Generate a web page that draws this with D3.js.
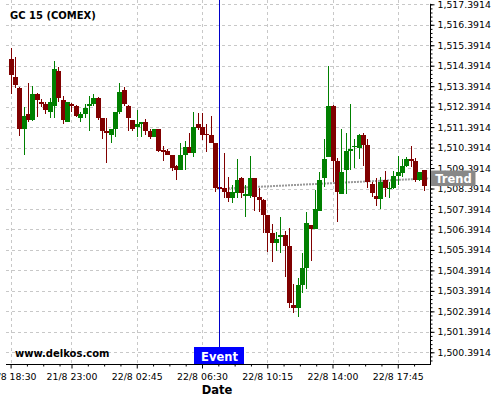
<!DOCTYPE html>
<html><head><meta charset="utf-8">
<script src="https://cdn.jsdelivr.net/npm/d3@7"></script>
<style>
html,body{margin:0;padding:0;background:#fff;}
svg{display:block;font-family:"DejaVu Sans",sans-serif;}
</style></head>
<body>
<svg id="c" width="500" height="400"></svg>
<script>
// ---- DATA (15-minute candles, index 0..95) ----
const title = "GC 15 (COMEX)";
const opens = [1514.72,1513.84,1513.30,1511.31,1512.03,1511.74,1513.01,1512.63,1512.51,1512.14,
1512.44,1514.13,1512.72,1511.66,1512.52,1512.42,1511.84,1512.03,1512.42,1512.52,
1512.81,1511.84,1511.22,1511.02,1511.30,1512.13,1513.20,1512.42,1511.74,1511.41,
1511.54,1511.64,1511.22,1510.92,1511.31,1510.27,1510.21,1510.03,1509.51,1509.31,
1510.03,1510.42,1510.14,1511.53,1511.38,1511.06,1510.99,1510.60,1508.47,1508.40,
1508.21,1507.95,1508.16,1508.91,1508.05,1508.04,1508.91,1507.99,1507.83,1507.10,
1506.23,1505.72,1506.05,1506.11,1505.59,1502.70,1502.54,1503.68,1504.52,1506.61,
1506.41,1507.29,1508.92,1509.95,1512.42,1509.75,1508.12,1509.30,1510.24,1510.41,
1510.36,1511.01,1510.52,1508.61,1508.03,1507.87,1508.81,1508.35,1508.40,1509.00,
1509.14,1509.49,1509.83,1509.74,1508.81,1509.30];
const highs = [1515.24,1514.80,1513.35,1512.39,1513.53,1513.41,1513.06,1512.75,1512.63,1512.80,
1514.62,1514.31,1512.91,1512.62,1512.57,1512.47,1512.14,1512.52,1512.91,1513.01,
1512.86,1511.86,1511.82,1511.30,1512.13,1513.53,1513.37,1512.45,1511.76,1512.23,
1511.64,1511.77,1511.31,1511.31,1511.32,1510.47,1510.31,1510.05,1509.52,1510.60,
1510.71,1511.09,1512.13,1512.07,1512.10,1511.53,1511.93,1510.62,1508.52,1510.11,
1508.97,1508.56,1509.83,1508.97,1508.56,1510.00,1508.93,1508.40,1507.86,1507.12,
1506.66,1506.29,1506.98,1506.33,1506.46,1503.73,1504.01,1505.26,1507.26,1506.63,
1508.32,1509.21,1510.80,1514.39,1512.45,1509.88,1511.28,1511.12,1512.52,1510.81,
1511.06,1511.09,1510.80,1508.73,1508.89,1508.97,1509.26,1508.70,1509.25,1510.00,
1509.82,1509.95,1510.48,1509.90,1509.20,1509.32];
const lows = [1512.99,1513.29,1510.97,1510.01,1511.63,1511.69,1511.90,1512.39,1512.03,1511.82,
1511.82,1512.63,1511.53,1511.63,1512.13,1511.90,1511.63,1511.82,1511.20,1512.42,
1511.74,1510.80,1509.62,1510.60,1510.92,1512.03,1512.44,1511.20,1511.22,1510.91,
1510.89,1511.01,1510.80,1510.91,1510.20,1509.72,1510.03,1509.26,1508.79,1509.30,
1509.31,1510.13,1509.92,1511.25,1510.76,1510.19,1510.62,1508.22,1508.32,1507.91,
1507.73,1507.67,1507.93,1507.91,1507.02,1507.93,1507.29,1507.26,1506.20,1505.29,
1504.80,1505.36,1505.22,1504.09,1502.54,1502.30,1502.10,1503.27,1503.47,1504.85,
1506.39,1507.27,1508.48,1509.93,1508.73,1506.77,1508.10,1508.12,1509.30,1509.38,
1509.83,1509.49,1508.40,1507.98,1507.55,1507.39,1507.99,1507.91,1508.38,1508.56,
1508.97,1509.43,1509.43,1508.70,1508.78,1508.29];
const closes = [1513.95,1513.45,1511.31,1511.93,1511.74,1513.01,1512.72,1512.54,1512.23,1512.62,
1514.23,1512.83,1511.74,1512.62,1512.44,1511.93,1512.03,1512.31,1512.52,1512.81,
1511.84,1511.22,1511.12,1511.30,1512.13,1513.11,1512.52,1511.84,1511.31,1511.54,
1511.64,1511.22,1510.92,1511.31,1510.22,1510.21,1510.03,1509.41,1509.30,1510.03,
1510.42,1510.14,1511.38,1511.33,1511.02,1510.99,1510.63,1508.44,1508.39,1508.24,
1507.95,1508.21,1508.81,1508.16,1508.10,1508.91,1507.98,1507.83,1507.10,1506.23,
1505.72,1505.91,1506.11,1505.59,1502.81,1502.54,1503.68,1504.49,1506.69,1506.41,
1507.38,1508.81,1509.83,1512.42,1509.75,1508.24,1509.20,1510.24,1510.32,1510.47,
1511.01,1510.52,1508.73,1508.16,1507.87,1508.71,1508.43,1508.43,1509.00,1509.18,
1509.49,1509.83,1509.75,1508.81,1509.20,1508.52];

const xTickIdx = [0, 14, 29, 44, 59, 74, 89];
const xTickLabels = ["21/8 18:30","21/8 23:00","22/8 02:45","22/8 06:30","22/8 10:15","22/8 14:00","22/8 17:45"];
const yTickValues = [1500.3914,1501.3914,1502.3914,1503.3914,1504.3914,1505.3914,1506.3914,1507.3914,1508.3914,
1509.3914,1510.3914,1511.3914,1512.3914,1513.3914,1514.3914,1515.3914,1516.3914,1517.3914];
const eventIndex = 48;
const eventLabel = "Event";
const trendIdx = [50, 96.2];
const trendVal = [1508.40, 1508.89];
const trendLabel = "Trend";
const xAxisTitle = "Date";
const watermark = "www.delkos.com";

// ---- LAYOUT ----
const L = 6, R = 430, T = 4.3, B = 364;
const svg = d3.select("#c");
const x = d3.scaleLinear().domain([0, 95]).range([10.6, 10.6 + 95 * 4.35]);
const y = d3.scaleLinear().domain([1499.8194, 1517.3914]).range([B, T]);
const bodyW = 4.5;

// grid
const grid = svg.append("g");
grid.selectAll("line.h").data(yTickValues).join("line")
  .attr("x1", L).attr("x2", R)
  .attr("y1", d => Math.round(y(d)) + 0.5).attr("y2", d => Math.round(y(d)) + 0.5)
  .attr("stroke", "#c8c8c8").attr("stroke-dasharray", "3,3");
grid.selectAll("line.v").data(xTickIdx).join("line")
  .attr("x1", d => Math.round(x(d)) + 0.5).attr("x2", d => Math.round(x(d)) + 0.5)
  .attr("y1", 0).attr("y2", B)
  .attr("stroke", "#c8c8c8").attr("stroke-dasharray", "3,3");

// trend line (dotted)
svg.append("line")
  .attr("x1", x(trendIdx[0])).attr("x2", x(trendIdx[1]))
  .attr("y1", y(trendVal[0])).attr("y2", y(trendVal[1]))
  .attr("stroke", "#9a9a9a").attr("stroke-width", 2).attr("stroke-dasharray", "2,1");

// candles
const candles = d3.range(opens.length).map(i => ({i, o: opens[i], h: highs[i], l: lows[i], c: closes[i]}));
const cg = svg.append("g").attr("shape-rendering", "crispEdges");
cg.selectAll("line.w").data(candles).join("line")
  .attr("x1", d => Math.round(x(d.i)) + 0.5).attr("x2", d => Math.round(x(d.i)) + 0.5)
  .attr("y1", d => y(d.h)).attr("y2", d => y(d.l))
  .attr("stroke", d => d.c >= d.o ? "#008000" : "#800000").attr("stroke-width", 1);
cg.selectAll("rect").data(candles).join("rect")
  .attr("x", d => Math.round(x(d.i)) + 0.5 - bodyW / 2)
  .attr("width", bodyW)
  .attr("y", d => y(Math.max(d.o, d.c)))
  .attr("height", d => Math.max(1.5, Math.abs(y(d.o) - y(d.c))))
  .attr("fill", d => d.c >= d.o ? "#008000" : "#800000");

// event line + label
const ex = Math.round(x(eventIndex)) + 0.5;
svg.append("line").attr("x1", ex).attr("x2", ex).attr("y1", 0).attr("y2", 348)
  .attr("stroke", "#0000c8").attr("stroke-width", 1);
svg.append("rect").attr("x", ex - 25.5).attr("y", 347).attr("width", 50).attr("height", 17).attr("fill", "#0000ff");
svg.append("text").attr("x", ex).attr("y", 360.5).attr("text-anchor", "middle")
  .attr("fill", "#fff").attr("font-weight", "bold").attr("font-size", "11.5px").text(eventLabel);

// axes
const yAxis = d3.axisRight(y).tickValues(yTickValues).tickSize(4).tickPadding(3).tickFormat(d3.format(",.4f"));
const yMinor = d3.axisRight(y).tickValues(d3.range(0, 88).map(k => 1500.3914 + (k - 2) * 0.2).filter(v => v >= 1499.82 && v <= 1517.4)).tickSize(2).tickFormat("");
const ay = svg.append("g").attr("transform", `translate(${R + 0.5},0)`).call(yAxis);
svg.append("g").attr("transform", `translate(${R + 0.5},0)`).call(yMinor);
svg.selectAll(".domain").remove();
ay.selectAll("text").attr("font-size", "9.33px").attr("font-family", "DejaVu Sans").attr("fill", "#000");

const xAxis = d3.axisBottom(x).tickValues(xTickIdx).tickSize(4).tickPadding(5)
  .tickFormat((d, i) => xTickLabels[i]);
const minorIdx = [];
xTickIdx.forEach(t => { for (let k = 1; k <= 3; k++) minorIdx.push(t + k * 3.75); });
const xMinor = d3.axisBottom(x).tickValues(minorIdx.filter(v => x(v) > L && x(v) < R)).tickSize(2).tickFormat("");
const ax = svg.append("g").attr("transform", `translate(0,${B + 0.5})`).call(xAxis);
svg.append("g").attr("transform", `translate(0,${B + 0.5})`).call(xMinor);
svg.selectAll(".domain").remove();
ax.selectAll("text").attr("font-size", "9.33px").attr("font-family", "DejaVu Sans").attr("fill", "#000");

// axis lines
svg.append("line").attr("x1", L).attr("x2", R + 1).attr("y1", B + 0.5).attr("y2", B + 0.5).attr("stroke", "#000");
svg.append("line").attr("x1", R + 0.5).attr("x2", R + 0.5).attr("y1", T - 0.5).attr("y2", B + 1).attr("stroke", "#000");

// trend label
const ty = y(trendVal[1]);
svg.append("rect").attr("x", R + 1).attr("y", ty - 7.8).attr("width", 44.5).attr("height", 15.5).attr("fill", "#888");
svg.append("text").attr("x", R + 23.5).attr("y", ty + 4.2).attr("text-anchor", "middle")
  .attr("fill", "#fff").attr("font-weight", "bold").attr("font-size", "11.5px").text(trendLabel);

// texts
svg.append("text").attr("x", 10).attr("y", 19).attr("font-weight", "bold").attr("font-size", "10px").text(title);
svg.append("text").attr("x", 15).attr("y", 357).attr("font-weight", "bold").attr("font-size", "10px").text(watermark);
svg.append("text").attr("x", 217).attr("y", 394).attr("text-anchor", "middle").attr("font-weight", "bold").attr("font-size", "11.5px").text(xAxisTitle);
</script>
</body></html>
